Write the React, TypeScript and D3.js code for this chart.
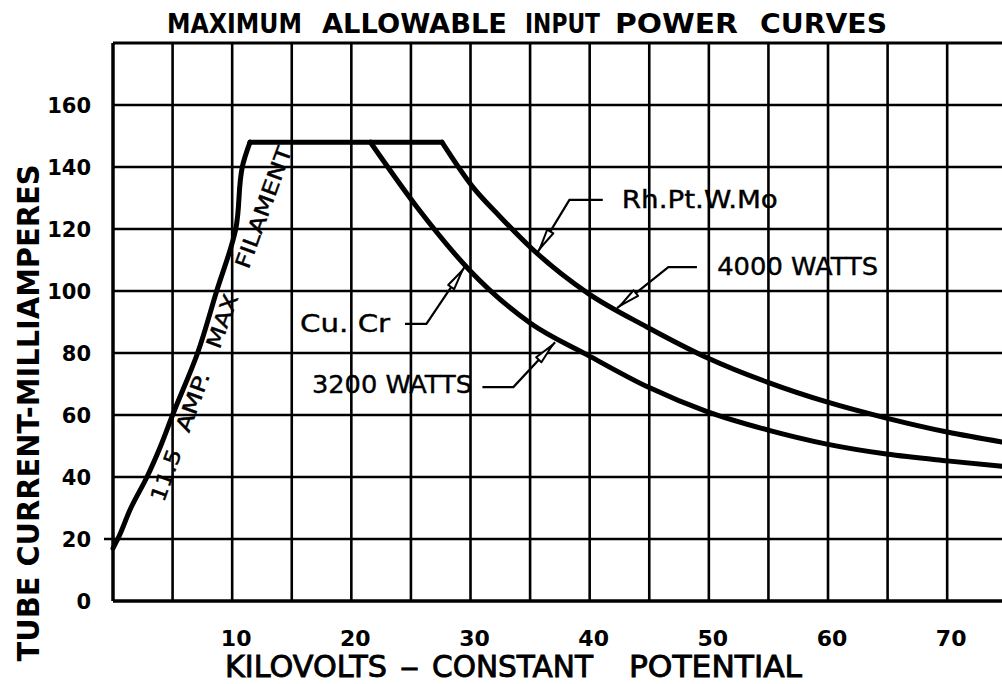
import React from "react";
import * as d3 from "d3";

// ---------- data ----------
const kvTicks = [10, 20, 30, 40, 50, 60, 70];
const maTicks = [0, 20, 40, 60, 80, 100, 120, 140, 160];
const kvGrid = [0, 5, 10, 15, 20, 25, 30, 35, 40, 45, 50, 55, 60, 65, 70];
const maGrid = [0, 20, 40, 60, 80, 100, 120, 140, 160, 180];

const filamentKv = [0, 0.4, 1.5, 2.85, 4.0, 5.0, 7.1, 8.7, 10.3, 10.85, 11.5];
const filamentMa = [17, 20, 30, 40, 50, 60, 80, 100, 120, 140, 148];

const plateauKv = [11.5, 27.6];
const plateauMa = [148, 148];

const w4000Kv = [27.6, 30.2, 32.5, 35.0, 39.8, 44.8, 49.9, 54.9, 59.9, 64.9, 70.0, 74.6];
const w4000Ma = [148, 133.5, 123.9, 114.2, 99.4, 88.4, 78.4, 70.6, 64.2, 59.0, 54.5, 51.3];

const w3200Kv = [21.6, 25.5, 29.9, 35.0, 39.8, 44.9, 49.9, 54.9, 59.9, 64.9, 70.0, 74.6];
const w3200Ma = [148, 127.1, 106.8, 89.7, 79.4, 69.0, 61.0, 55.2, 50.6, 47.4, 45.2, 43.5];

const noteLabels = ["Rh.Pt.W.Mo", "4000 WATTS", "Cu. Cr", "3200 WATTS"];
const noteKv = [42.7, 50.7, 15.7, 16.7];
const noteMa = [126.8, 105.2, 86.8, 67.1];
const noteWidth = [156, 161, 90, 160];
// leader: start -> elbow -> tip
const leaderKv = [
  [41.1, 38.3, 35.65],
  [49.0, 46.6, 42.3],
  [24.5, 26.3, 29.5],
  [31.0, 33.6, 37.1],
];
const leaderMa = [
  [129.4, 129.4, 112.6],
  [107.7, 107.7, 94.5],
  [89.4, 89.4, 107.7],
  [69.0, 69.0, 83.5],
];

// rotated filament label, word by word (offset along the baseline, length)
const filamentWords = ["11.5", "AMP.", "MAX", "FILAMENT"];
const filamentWordStart = [0, 74, 163, 248];
const filamentWordLen = [54, 62, 56, 128];

const titleWords = ["MAXIMUM", "ALLOWABLE", "INPUT", "POWER", "CURVES"];
const titleX0 = [167, 322, 525, 615, 760];
const titleX1 = [302, 507, 600, 738, 887];

const xTitleWords = ["KILOVOLTS", "–", "CONSTANT", "POTENTIAL"];
const xTitleX0 = [225, 400, 432, 629];
const xTitleX1 = [387, 419, 593, 802];

// ---------- chart ----------
const W = 1002;
const H = 684;
const FONT = "'DejaVu Sans', Verdana, sans-serif";

export default function App() {
  const x = d3.scaleLinear().domain([0, 74.6]).range([113, 1002]);
  const y = d3.scaleLinear().domain([0, 180]).range([601, 43]);

  const smooth = d3
    .line<[number, number]>()
    .x((d) => x(d[0]))
    .y((d) => y(d[1]))
    .curve(d3.curveMonotoneX);
  const steep = d3
    .line<[number, number]>()
    .x((d) => x(d[0]))
    .y((d) => y(d[1]))
    .curve(d3.curveMonotoneY);
  const straight = d3
    .line<[number, number]>()
    .x((d) => x(d[0]))
    .y((d) => y(d[1]));

  const zip = (a: number[], b: number[]) => a.map((v, i) => [v, b[i]] as [number, number]);

  const arrowHead = (x1: number, y1: number, x2: number, y2: number) => {
    const dx = x2 - x1;
    const dy = y2 - y1;
    const len = Math.hypot(dx, dy);
    const ux = dx / len;
    const uy = dy / len;
    const px = -uy;
    const py = ux;
    const tipX = x2 - ux * 4;
    const tipY = y2 - uy * 4;
    const bx = tipX - ux * 20;
    const by = tipY - uy * 20;
    const hw = 3.6;
    return `M${tipX},${tipY}L${bx + px * hw},${by + py * hw}L${bx - px * hw},${by - py * hw}Z`;
  };

  // filament label baseline origin and direction
  const ang = -70;
  const ox = x(4.0) + 3;
  const oy = y(31.6);
  const ux = Math.cos((ang * Math.PI) / 180);
  const uy = Math.sin((ang * Math.PI) / 180);

  // filament points ordered top-down in pixels for the monotone-in-y curve
  const filamentPts = zip(filamentKv, filamentMa).slice().reverse();

  return (
    <svg
      width={W}
      height={H}
      viewBox={`0 0 ${W} ${H}`}
      style={{ position: "absolute", left: 0, top: 0, background: "#fff" }}
    >
      <rect x={0} y={0} width={W} height={H} fill="#fff" />

      {/* grid */}
      {kvGrid.map((k) => (
        <line
          key={"v" + k}
          x1={x(k)}
          x2={x(k)}
          y1={y(180)}
          y2={y(0)}
          stroke="#000"
          strokeWidth={k === 0 ? 3.5 : 2.6}
        />
      ))}
      {maGrid.map((m) => (
        <line
          key={"h" + m}
          x1={m === 20 ? x(0) - 9 : x(0)}
          x2={W}
          y1={y(m)}
          y2={y(m)}
          stroke="#000"
          strokeWidth={m === 0 ? 3.6 : m === 180 ? 3.2 : 2.6}
        />
      ))}

      {/* curves */}
      <g fill="none" stroke="#000" strokeWidth={5} strokeLinejoin="round" strokeLinecap="round">
        <path d={steep(filamentPts) || ""} />
        <path d={straight(zip(plateauKv, plateauMa)) || ""} />
        <path d={smooth(zip(w4000Kv, w4000Ma)) || ""} />
        <path d={smooth(zip(w3200Kv, w3200Ma)) || ""} />
      </g>

      {/* leaders */}
      {leaderKv.map((ks, i) => {
        const pts = ks.map((k, j) => [x(k), y(leaderMa[i][j])]);
        return (
          <g key={"l" + i}>
            <path
              d={`M${pts[0][0]},${pts[0][1]}L${pts[1][0]},${pts[1][1]}L${pts[2][0]},${pts[2][1]}`}
              fill="none"
              stroke="#000"
              strokeWidth={2.2}
            />
            <path
              d={arrowHead(pts[1][0], pts[1][1], pts[2][0], pts[2][1])}
              fill="#fff"
              stroke="#000"
              strokeWidth={2}
              strokeLinejoin="round"
            />
          </g>
        );
      })}

      {/* annotation labels */}
      {noteLabels.map((t, i) => (
        <text
          key={"n" + i}
          x={x(noteKv[i])}
          y={y(noteMa[i])}
          fontFamily={FONT}
          fontSize={24}
          textLength={noteWidth[i]}
          lengthAdjust="spacingAndGlyphs"
          fill="#000"
          stroke="#000"
          strokeWidth={0.4}
        >
          {t}
        </text>
      ))}

      {/* filament label */}
      {filamentWords.map((w, i) => {
        const px = ox + ux * filamentWordStart[i];
        const py = oy + uy * filamentWordStart[i];
        return (
          <text
            key={"f" + i}
            x={px}
            y={py}
            transform={`rotate(${ang} ${px} ${py})`}
            fontFamily={FONT}
            fontSize={21}
            textLength={filamentWordLen[i]}
            lengthAdjust="spacingAndGlyphs"
            fill="#000"
            stroke="#000"
            strokeWidth={0.4}
          >
            {w}
          </text>
        );
      })}

      {/* y tick labels */}
      {maTicks.map((m) => (
        <text
          key={"yt" + m}
          x={91}
          y={y(m) + 8}
          textAnchor="end"
          fontFamily={FONT}
          fontWeight="bold"
          fontSize={21}
          fill="#000"
        >
          {m}
        </text>
      ))}

      {/* x tick labels */}
      {kvTicks.map((k) => (
        <text
          key={"xt" + k}
          x={x(k) + 4}
          y={646}
          textAnchor="middle"
          fontFamily={FONT}
          fontWeight="bold"
          fontSize={22}
          fill="#000"
        >
          {k}
        </text>
      ))}

      {/* title */}
      {titleWords.map((w, i) => (
        <text
          key={"t" + i}
          x={titleX0[i]}
          y={33}
          fontFamily={FONT}
          fontWeight="bold"
          fontSize={26}
          textLength={titleX1[i] - titleX0[i]}
          lengthAdjust="spacingAndGlyphs"
          fill="#000"
        >
          {w}
        </text>
      ))}

      {/* x axis title */}
      {xTitleWords.map((w, i) => (
        <text
          key={"xa" + i}
          x={xTitleX0[i]}
          y={677}
          fontFamily={FONT}
          fontSize={30}
          textLength={xTitleX1[i] - xTitleX0[i]}
          lengthAdjust="spacingAndGlyphs"
          fill="#000"
          stroke="#000"
          strokeWidth={0.9}
        >
          {w}
        </text>
      ))}

      {/* y axis title */}
      <text
        x={0}
        y={0}
        transform={`translate(39,413) rotate(-90)`}
        textAnchor="middle"
        fontFamily={FONT}
        fontWeight="bold"
        fontSize={31}
        textLength={497}
        lengthAdjust="spacingAndGlyphs"
        fill="#000"
      >
        TUBE CURRENT-MILLIAMPERES
      </text>
    </svg>
  );
}
